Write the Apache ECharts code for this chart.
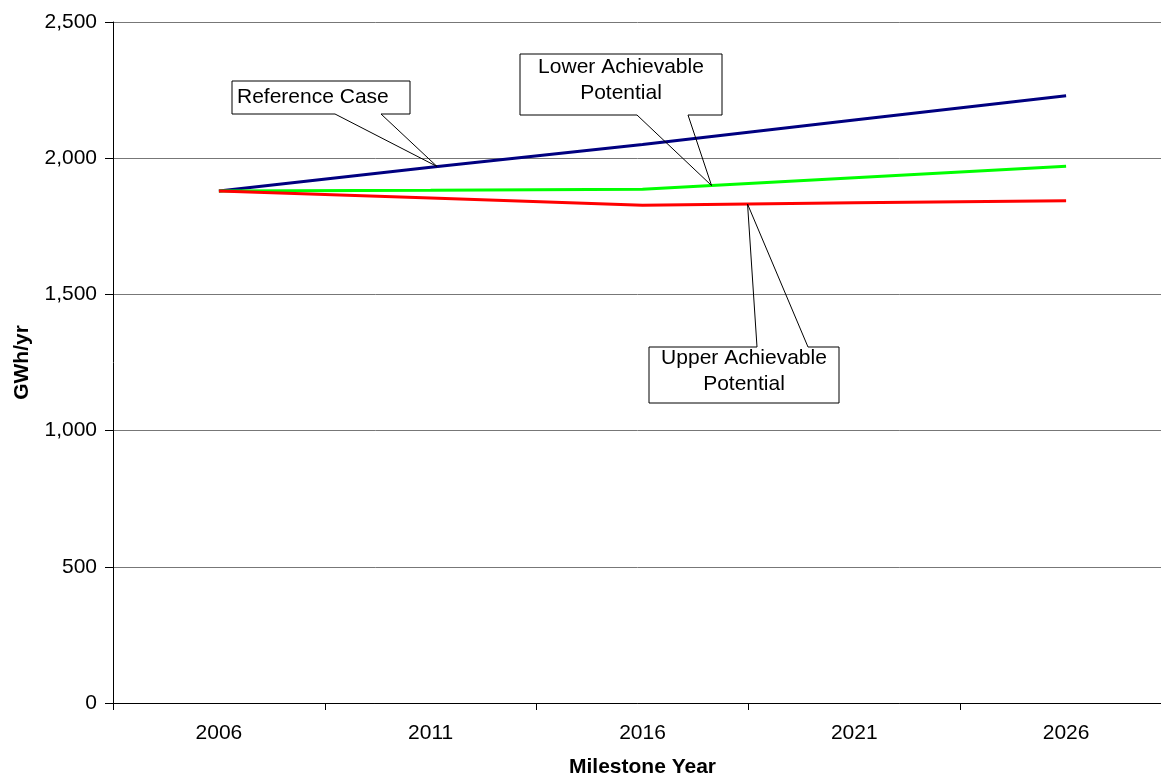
<!DOCTYPE html>
<html>
<head>
<meta charset="utf-8">
<script src="https://cdn.jsdelivr.net/npm/echarts@6/dist/echarts.min.js"></script>
<style>
  html, body { margin: 0; padding: 0; background: #ffffff; }
  #chart { width: 1161px; height: 776px; }
</style>
</head>
<body>
<div id="chart"></div>
<script>
// Milestone years and annual energy (GWh/yr) per scenario
const years = ['2006', '2011', '2016', '2021', '2026'];
const referenceCase = [1880, 1967, 2050, 2140, 2229];
const lowerAchievable = [1880, 1882, 1886, 1928, 1970];
const upperAchievable = [1880, 1854, 1827, 1836, 1844];
const yMin = 0;
const yMax = 2500;
const yStep = 500;

const FONT = '"Liberation Sans", Arial, Helvetica, sans-serif';

const chart = echarts.init(document.getElementById('chart'), null, { renderer: 'canvas' });

function lineSeries(name, data, color) {
  return {
    name: name,
    type: 'line',
    data: data,
    symbol: 'none',
    lineStyle: { color: color, width: 3 },
    itemStyle: { color: color },
    z: 3
  };
}

chart.setOption({
  animation: false,
  backgroundColor: '#ffffff',
  grid: { left: 113, right: -11, top: 22, bottom: 73, containLabel: false, outerBoundsMode: 'none' },
  xAxis: {
    type: 'category',
    data: years,
    boundaryGap: true,
    name: 'Milestone Year',
    nameLocation: 'middle',
    nameGap: 54,
    nameTextStyle: { fontFamily: FONT, fontSize: 21, fontWeight: 'bold', color: '#000' },
    axisLine: { lineStyle: { color: '#000', width: 1 } },
    axisTick: { show: true, alignWithLabel: false, length: 7, lineStyle: { color: '#000' } },
    axisLabel: { fontFamily: FONT, fontSize: 21, color: '#000', margin: 20 },
    splitLine: { show: false }
  },
  yAxis: {
    type: 'value',
    min: yMin,
    max: yMax,
    interval: yStep,
    name: 'GWh/yr',
    nameLocation: 'middle',
    nameGap: 80,
    nameTextStyle: { fontFamily: FONT, fontSize: 21, fontWeight: 'bold', color: '#000' },
    axisLine: { show: true, lineStyle: { color: '#000', width: 1 } },
    axisTick: { show: true, length: 8, lineStyle: { color: '#000' } },
    axisLabel: {
      fontFamily: FONT, fontSize: 21, color: '#000', margin: 16,
      formatter: v => v.toLocaleString('en-US')
    },
    splitLine: { show: true, lineStyle: { color: '#777', width: 1 } }
  },
  series: [
    lineSeries('Reference Case', referenceCase, '#000080'),
    lineSeries('Lower Achievable Potential', lowerAchievable, '#00ff00'),
    lineSeries('Upper Achievable Potential', upperAchievable, '#ff0000')
  ]
});

// Callout boxes: rectangle [x0, y0, x1, y1], wedge base x positions on the
// given side, and the point along a series (fractional category index) it points to.
const callouts = [
  { lines: ['Reference Case'], align: 'left', box: [232, 81, 410, 114], side: 'bottom', base: [335, 381], seriesIndex: 0, at: 1.03 },
  { lines: ['Lower Achievable', 'Potential'], align: 'center', box: [520, 54, 722, 115], side: 'bottom', base: [637, 688], seriesIndex: 1, at: 2.326 },
  { lines: ['Upper Achievable', 'Potential'], align: 'center', box: [649, 347, 839, 403], side: 'top', base: [757, 808], seriesIndex: 2, at: 2.496 }
];
const seriesValues = [referenceCase, lowerAchievable, upperAchievable];

function pointOnSeries(idx, at) {
  const vals = seriesValues[idx];
  const i = Math.floor(at);
  const f = at - i;
  const p0 = chart.convertToPixel({ seriesIndex: idx }, [i, vals[i]]);
  const p1 = chart.convertToPixel({ seriesIndex: idx }, [i + 1, vals[i + 1]]);
  return [p0[0] + f * (p1[0] - p0[0]), p0[1] + f * (p1[1] - p0[1])];
}

const graphics = [];
callouts.forEach(c => {
  const [x0, y0, x1, y1] = c.box;
  const tip = pointOnSeries(c.seriesIndex, c.at);
  let pts;
  if (c.side === 'bottom') {
    pts = [[c.base[0], y1], [x0, y1], [x0, y0], [x1, y0], [x1, y1], [c.base[1], y1], tip, [c.base[0], y1]];
  } else {
    pts = [[c.base[0], y0], [x0, y0], [x0, y1], [x1, y1], [x1, y0], [c.base[1], y0], tip, [c.base[0], y0]];
  }
  graphics.push({
    type: 'rect', z: 100,
    shape: { x: x0, y: y0, width: x1 - x0, height: y1 - y0 },
    style: { fill: '#ffffff', stroke: null }
  });
  graphics.push({
    type: 'polyline', z: 101,
    shape: { points: pts },
    style: { fill: null, stroke: '#000', lineWidth: 1 }
  });
  graphics.push({
    type: 'text', z: 102,
    x: c.align === 'left' ? x0 + 5 : (x0 + x1) / 2,
    y: (y0 + y1) / 2 - (c.lines.length > 1 ? 4 : 0),
    style: {
      text: c.lines.join('\n'),
      fontFamily: FONT, fontSize: 21, lineHeight: 26, fill: '#000',
      align: c.align, verticalAlign: 'middle'
    }
  });
});

chart.setOption({ graphic: graphics });
</script>
</body>
</html>
